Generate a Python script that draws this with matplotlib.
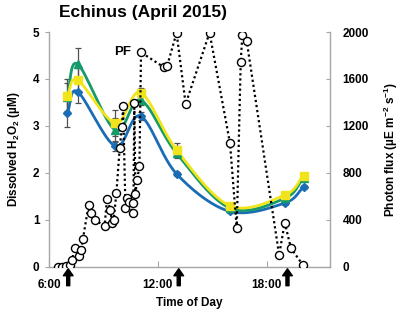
import numpy as np
import matplotlib
matplotlib.use("Agg")
import matplotlib.pyplot as plt

plt.rcParams['font.family'] = ['Liberation Sans', 'DejaVu Sans']
plt.rcParams['font.weight'] = 'bold'
plt.rcParams['mathtext.fontset'] = 'custom'
plt.rcParams['mathtext.bf'] = 'Liberation Sans:bold'
plt.rcParams['mathtext.rm'] = 'Liberation Sans:bold'
plt.rcParams['mathtext.default'] = 'bf'

# H2O2 samples (hours of day, uM)
h2o2_time = [7.0, 7.57, 9.65, 11.04, 13.03, 15.98, 19.0, 20.04]
blue_vals = [3.27, 3.73, 2.57, 3.21, 1.98, 1.18, 1.36, 1.70]
green_vals = [3.62, 4.32, 2.91, 3.55, 2.42, 1.25, 1.46, 1.90]
yellow_vals = [3.64, 3.98, 3.06, 3.71, 2.49, 1.30, 1.53, 1.94]
blue_err = [0.30, 0.25, 0.10, 0.08, 0.05, 0.04, 0.04, 0.04]
green_err = [0.30, 0.35, 0.25, 0.10, 0.10, 0.04, 0.04, 0.05]
yellow_err = [0.37, 0.25, 0.28, 0.10, 0.14, 0.04, 0.04, 0.05]

# photon flux (hours of day, uE m-2 s-1)
pf_time = [6.48, 6.70, 6.92, 7.16, 7.25, 7.44, 7.62, 7.75, 7.86, 8.18,
           8.31, 8.51, 9.06, 9.19, 9.38, 9.47, 9.56, 9.71, 9.89, 10.02,
           10.08, 10.21, 10.30, 10.39, 10.61, 10.65, 10.70, 10.76, 10.85, 10.98,
           11.07, 12.33, 12.51, 13.03, 13.53, 14.85, 15.98, 16.35, 16.57, 16.66,
           16.90, 18.69, 19.00, 19.34, 20.00]
pf_vals = [0, 0, 5, 20, 60, 160, 90, 140, 235, 530,
           460, 400, 350, 580, 485, 370, 400, 630, 1010, 1194,
           1370, 500, 585, 555, 460, 540, 1398, 625, 740, 855,
           1827, 1700, 1710, 1994, 1387, 1994, 1052, 329, 1747, 1974,
           1923, 102, 377, 159, 17]

arrow_times = [7.05, 13.15, 19.15]
xticks = [6, 12, 18]
xticklabels = ['6:00', '12:00', '18:00']


def smooth(x, y, n=30):
    # catmull-rom style curve like excel's smoothed line
    x = np.asarray(x, float)
    y = np.asarray(y, float)
    px = np.concatenate([[2 * x[0] - x[1]], x, [2 * x[-1] - x[-2]]])
    py = np.concatenate([[2 * y[0] - y[1]], y, [2 * y[-1] - y[-2]]])
    xs, ys = [], []
    for i in range(1, len(px) - 2):
        t = np.linspace(0, 1, n)
        for p, out in ((px, xs), (py, ys)):
            p0, p1, p2, p3 = p[i - 1], p[i], p[i + 1], p[i + 2]
            b1 = p1 + (p2 - p0) / 6
            b2 = p2 - (p3 - p1) / 6
            out.extend((1 - t) ** 3 * p1 + 3 * (1 - t) ** 2 * t * b1
                       + 3 * (1 - t) * t ** 2 * b2 + t ** 3 * p2)
    return np.array(xs), np.array(ys)


fig = plt.figure(figsize=(4.03, 3.17), dpi=100)
ax = fig.add_axes([0.122, 0.158, 0.697, 0.741])
ax2 = ax.twinx()

series = [(blue_vals, blue_err, '#1a6db5', 'D', 4.5),
          (green_vals, green_err, '#159a6a', '^', 5.5),
          (yellow_vals, yellow_err, '#f1e41c', 's', 5.5)]
for vals, err, col, mk, ms in series:
    ax.errorbar(h2o2_time, vals, yerr=err, fmt='none', ecolor='#505050',
                elinewidth=0.9, capsize=2.2, capthick=0.9, zorder=2)
for vals, err, col, mk, ms in series:
    sx, sy = smooth(h2o2_time, vals)
    ax.plot(sx, sy, color=col, lw=2.0, zorder=3)
    ax.plot(h2o2_time, vals, ls='none', marker=mk, ms=ms, color=col,
            markeredgecolor=col, zorder=4)

ax2.plot(pf_time, pf_vals, color='black', ls=(0, (1, 1.3)), lw=1.6,
         marker='o', ms=5.8, markerfacecolor='white',
         markeredgecolor='black', markeredgewidth=1.0)
ax2.text(10.05, 1830, 'PF', ha='center', va='center', fontsize=9.5,
         fontweight='bold')

ax.set_xlim(6, 21.5)
ax.set_ylim(0, 5)
ax2.set_ylim(0, 2000)
ax.set_yticks([0, 1, 2, 3, 4, 5])
ax2.set_yticks([0, 400, 800, 1200, 1600, 2000])
ax.set_xticks(xticks)
ax.set_xticklabels(xticklabels)

for a in (ax, ax2):
    a.spines['top'].set_visible(False)
    for s in a.spines.values():
        s.set_color('#a6a6a6')
        s.set_linewidth(1.0)
ax.spines['right'].set_visible(False)
ax2.spines['left'].set_visible(False)
ax2.spines['bottom'].set_visible(False)

ax.tick_params(axis='y', direction='out', length=3, color='#a6a6a6',
               labelsize=8.5, pad=4)
ax.tick_params(axis='x', direction='in', length=4, color='#a6a6a6',
               labelsize=8.5, pad=9)
ax2.tick_params(axis='y', direction='in', length=3, color='#a6a6a6',
                labelsize=8.5, pad=9)
for lab in ax.get_xticklabels() + ax.get_yticklabels() + ax2.get_yticklabels():
    lab.set_fontweight('bold')

ax.set_xlabel('Time of Day', fontsize=8.5, fontweight='bold', labelpad=4)
ax.set_ylabel('Dissolved H$_2$O$_2$ (µM)', fontsize=8.5, fontweight='bold',
              labelpad=8)
ax2.set_ylabel('Photon flux (µE m$^{-2}$ s$^{-1}$)', fontsize=8.5,
               fontweight='bold', labelpad=9)
fig.text(143 / 403, 1 - 13 / 317, 'Echinus (April 2015)', fontsize=12.5,
         fontweight='bold', ha='center', va='center')

for t in arrow_times:
    ax.annotate('', xy=(t, -0.008), xycoords=('data', 'axes fraction'),
                xytext=(t, -0.08), textcoords=('data', 'axes fraction'),
                arrowprops=dict(facecolor='black', edgecolor='black',
                                width=2.2, headwidth=7, headlength=5,
                                shrink=0), annotation_clip=False)

fig.savefig('out.png', dpi=100)
